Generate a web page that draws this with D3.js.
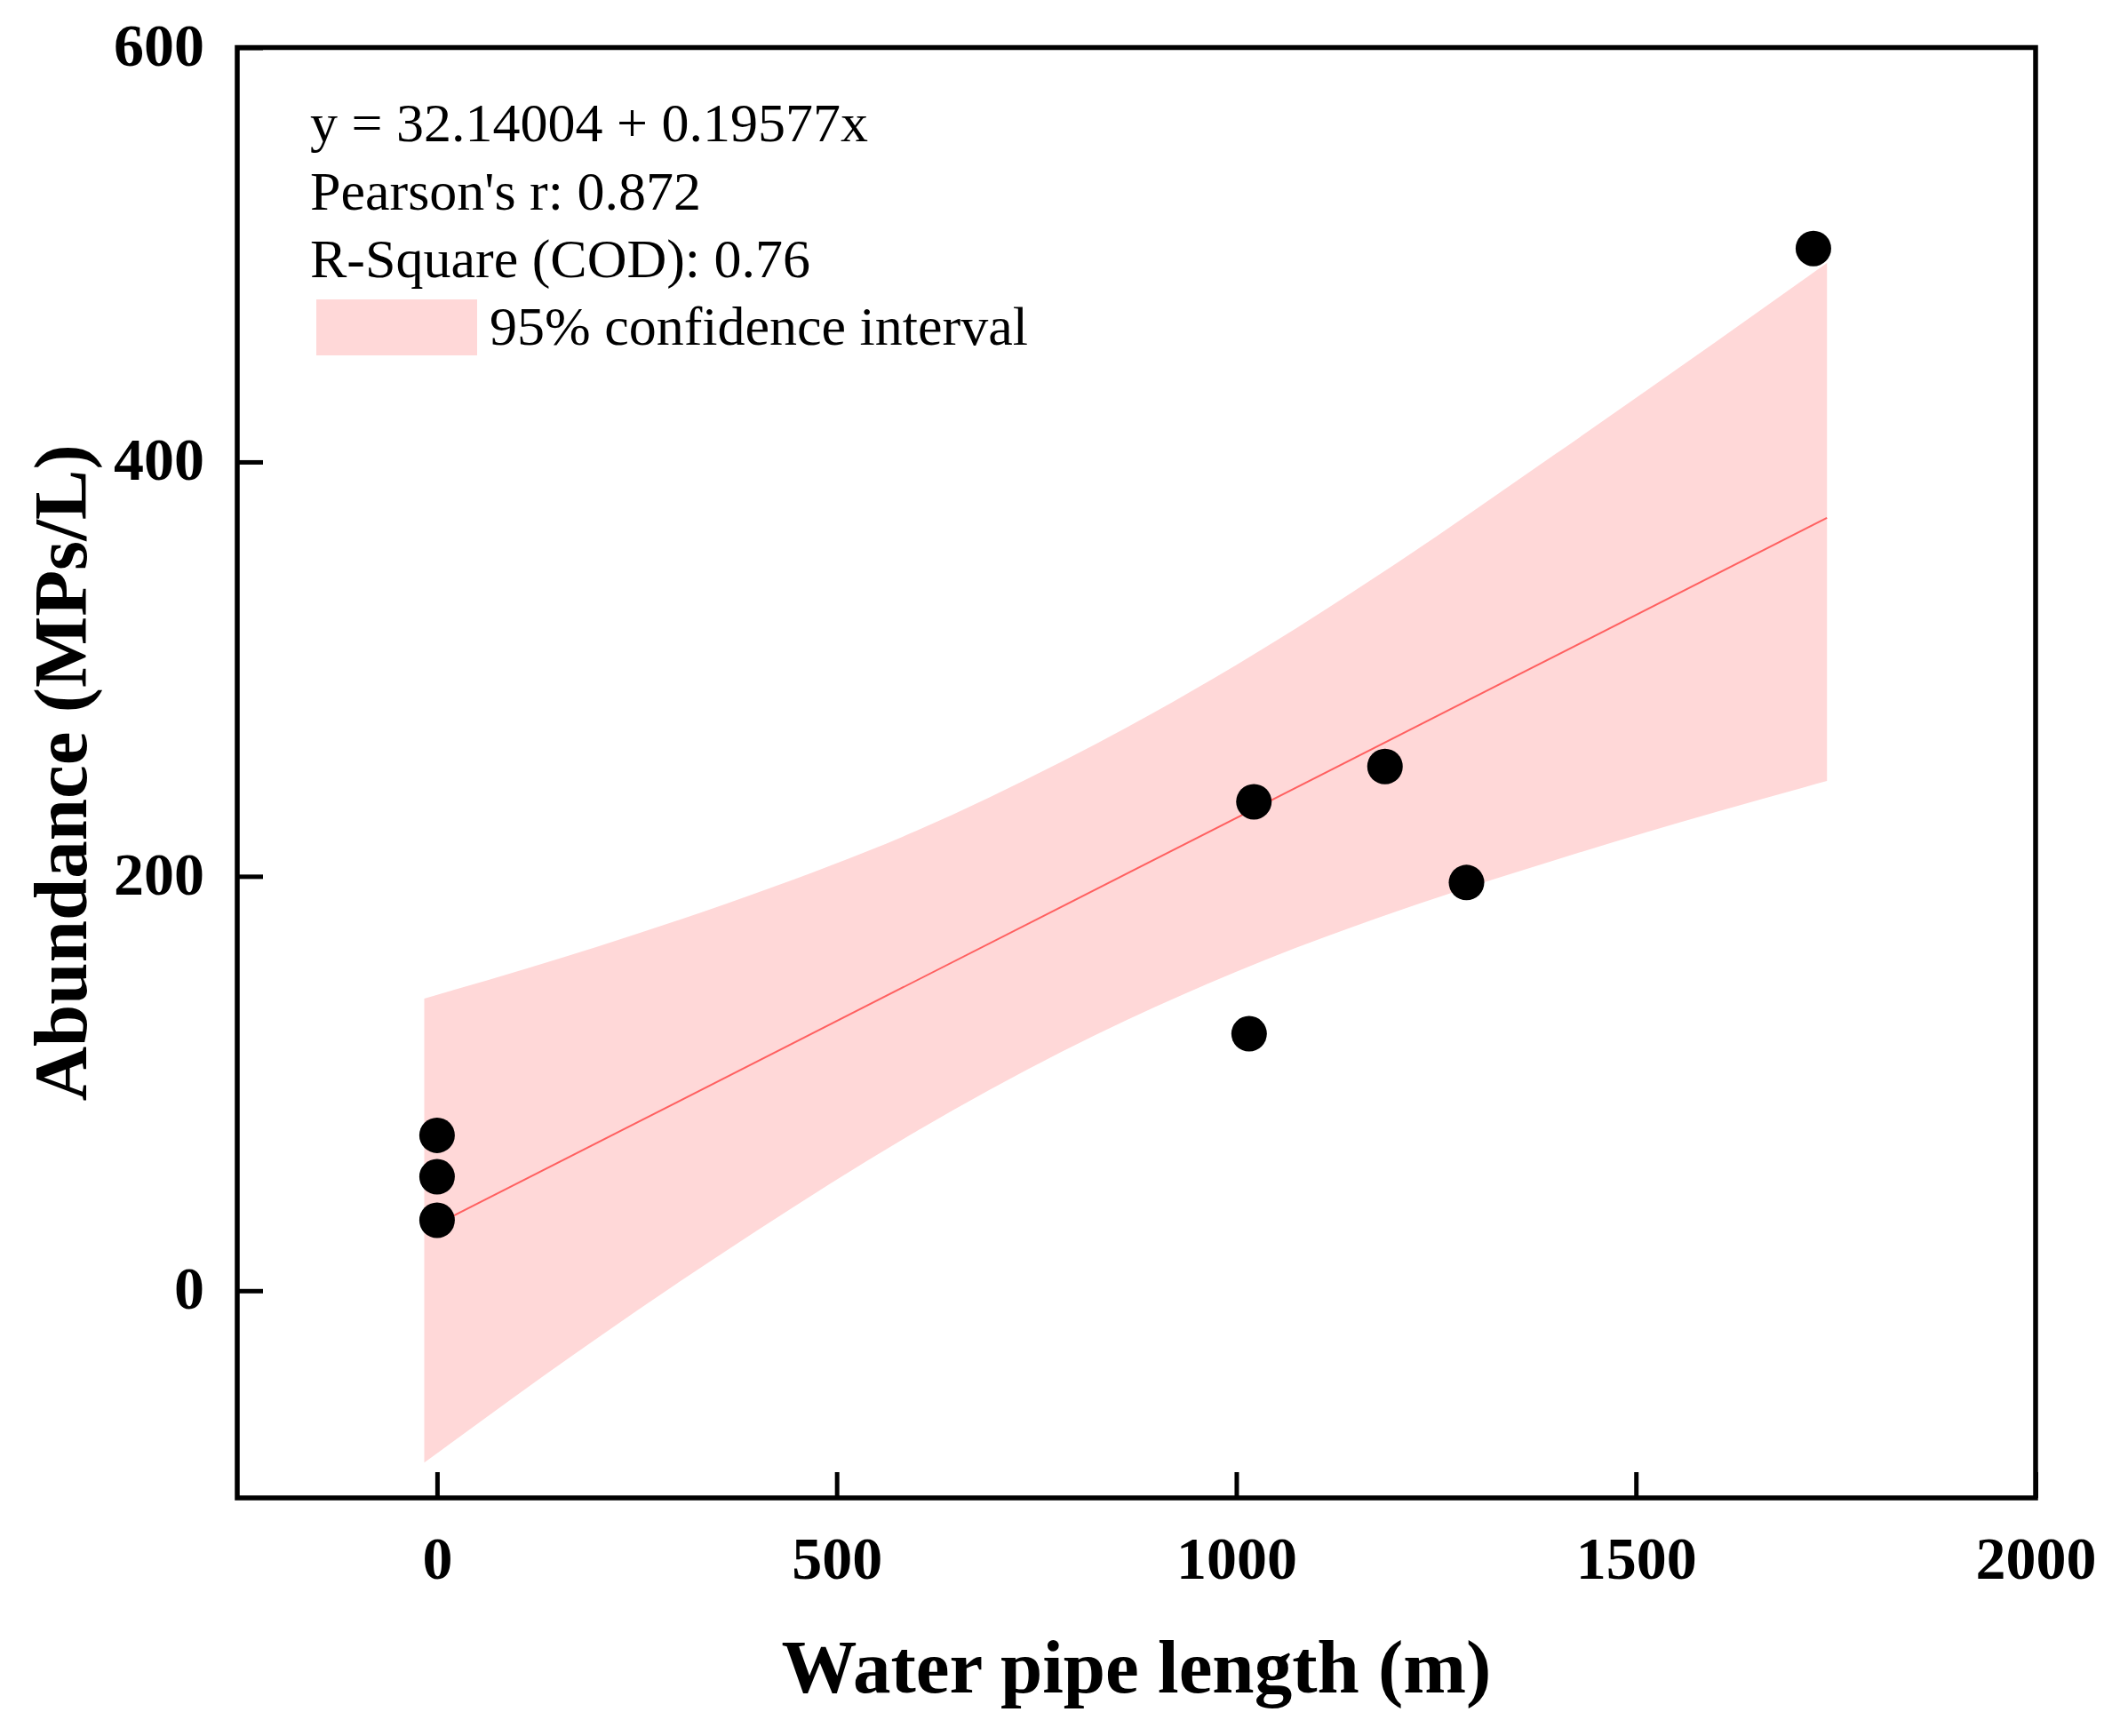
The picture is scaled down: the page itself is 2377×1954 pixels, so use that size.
<!DOCTYPE html>
<html>
<head>
<meta charset="utf-8">
<script src="https://cdn.jsdelivr.net/npm/d3@7"></script>
<style>
  body { margin: 0; background: #fff; }
  text { font-family: "Times New Roman", "Liberation Serif", serif; }
</style>
</head>
<body>
<div id="chart"></div>
<script>
// measured points
const pipeLength = [0, 0, 0, 1016, 1022, 1186, 1288, 1722];
const abundance  = [34, 55, 75, 124, 236, 253, 197, 503];

// 95% confidence band
const bandX     = [-16, 200, 400, 600, 780, 1000, 1200, 1400, 1600, 1739];
const bandUpper = [141, 166, 192, 222, 255, 302, 351, 404, 458, 496];
const bandLower = [-83, -23, 29, 77, 115, 154, 183, 208, 231, 246];

// fitted line ends
const fitX = [-16, 1739];
const fitY = [29, 373];

const xTicks = [0, 500, 1000, 1500, 2000];
const yTicks = [0, 200, 400, 600];

const notes = ["y = 32.14004 + 0.19577x", "Pearson's r: 0.872", "R-Square (COD): 0.76"];
const legendLabel = "95% confidence interval";

const W = 2377, H = 1954;
const margin = {top: 53.5, right: 86, bottom: 268, left: 267};
const width = W - margin.left - margin.right;
const height = H - margin.top - margin.bottom;

const svg = d3.select("#chart").append("svg")
    .attr("width", W)
    .attr("height", H);

const g = svg.append("g")
    .attr("transform", `translate(${margin.left},${margin.top})`);

const x = d3.scaleLinear().domain([-250, 2000]).range([0, width]);
const y = d3.scaleLinear().domain([-100, 600]).range([height, 0]);

// confidence band
const band = bandX.map((d, i) => ({x: d, lo: bandLower[i], hi: bandUpper[i]}));
g.append("path")
    .datum(band)
    .attr("fill", "#ffd8d8")
    .attr("d", d3.area()
        .x(d => x(d.x))
        .y0(d => y(d.lo))
        .y1(d => y(d.hi))
        .curve(d3.curveMonotoneX));

// fit line
g.append("path")
    .datum(fitX.map((d, i) => [d, fitY[i]]))
    .attr("fill", "none")
    .attr("stroke", "#ff6060")
    .attr("stroke-width", 2)
    .attr("d", d3.line().x(d => x(d[0])).y(d => y(d[1])));

// points
g.selectAll("circle.pt")
    .data(pipeLength.map((d, i) => [d, abundance[i]]))
    .join("circle")
    .attr("class", "pt")
    .attr("cx", d => x(d[0]))
    .attr("cy", d => y(d[1]))
    .attr("r", 20)
    .attr("fill", "#000");

// axes with inward ticks
const xAxis = g.append("g")
    .attr("transform", `translate(0,${height})`)
    .call(d3.axisBottom(x).tickValues(xTicks).tickFormat(d3.format("d"))
        .tickSizeInner(-29).tickSizeOuter(0).tickPadding(43));
const yAxis = g.append("g")
    .call(d3.axisLeft(y).tickValues(yTicks).tickFormat(d3.format("d"))
        .tickSizeInner(-29).tickSizeOuter(0).tickPadding(37));

[xAxis, yAxis].forEach(a => {
    a.select(".domain").remove();
    a.selectAll(".tick line").attr("stroke", "#000").attr("stroke-width", 5);
    a.selectAll(".tick text")
        .attr("fill", "#000")
        .style("font-size", "68px")
        .style("font-weight", "bold");
});
yAxis.selectAll(".tick text").attr("dy", "0.29em");

// frame
g.append("rect")
    .attr("width", width)
    .attr("height", height)
    .attr("fill", "none")
    .attr("stroke", "#000")
    .attr("stroke-width", 5.5);

// axis titles
svg.append("text")
    .attr("x", margin.left + width / 2)
    .attr("y", 1905)
    .attr("text-anchor", "middle")
    .style("font-size", "85px")
    .style("font-weight", "bold")
    .text("Water pipe length (m)");

svg.append("text")
    .attr("transform", `translate(97,${margin.top + height / 2}) rotate(-90)`)
    .attr("text-anchor", "middle")
    .style("font-size", "85px")
    .style("font-weight", "bold")
    .text("Abundance (MPs/L)");

// fit statistics
svg.selectAll("text.note")
    .data(notes)
    .join("text")
    .attr("class", "note")
    .attr("x", 349)
    .attr("y", (d, i) => 159 + i * 76.5)
    .style("font-size", "62px")
    .text(d => d);

// legend
svg.append("rect")
    .attr("x", 356)
    .attr("y", 337)
    .attr("width", 181)
    .attr("height", 63)
    .attr("fill", "#ffd8d8");
svg.append("text")
    .attr("x", 551)
    .attr("y", 388)
    .style("font-size", "62px")
    .text(legendLabel);
</script>
</body>
</html>
